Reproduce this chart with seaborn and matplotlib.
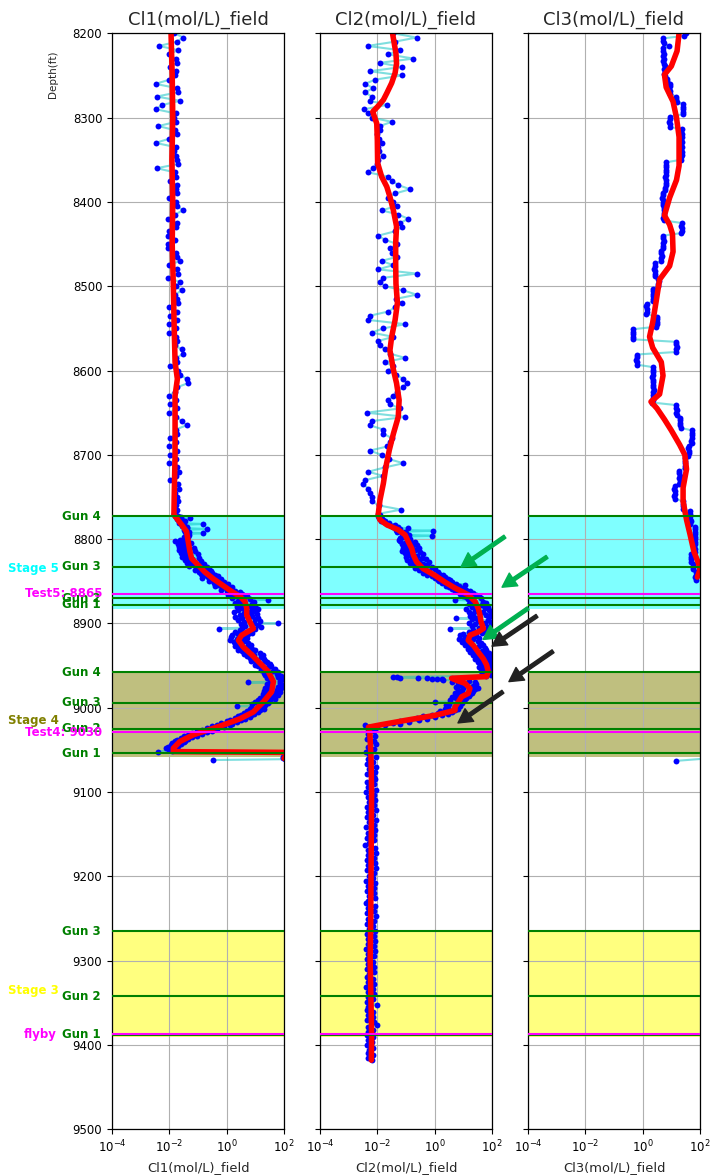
import numpy as np
import pandas as pd
import matplotlib
matplotlib.use("Agg")
import matplotlib.pyplot as plt
import matplotlib.transforms as mtransforms
from matplotlib.ticker import NullLocator
import seaborn as sns

sns.set_style("ticks")
plt.rcParams["font.family"] = ["DejaVu Sans"]

# ---------------------------------------------------------------------------
# Field chloride logs, stored as log10(mol/L).  Each run is sampled at a fixed
# depth interval starting at the given depth (ft).
# ---------------------------------------------------------------------------
CL1_UPPER_START, CL1_UPPER_STEP = 8200, 5
cl1_upper = [
    -1.82, -1.51, -1.75, -2.35, -1.70, -2.02, -1.78, -1.72, -1.98, -1.76,
    -1.80, -2.00, -2.48, -1.74, -1.70, -2.44, -1.63, -2.24, -2.48, -1.78,
    -1.82, -1.76, -2.38, -1.80, -1.74, -2.00, -2.48, -1.78, -1.82, -1.76,
    -1.72, -1.69, -2.44, -1.80, -1.76, -1.98, -1.74, -1.78, -1.72, -2.00,
    -1.76, -1.72, -1.53, -1.80, -2.03, -1.75, -1.78, -2.02, -2.06, -1.80,
    -2.04, -2.06, -1.78, -1.75, -1.63, -2.02, -1.72, -1.69, -2.04, -1.63,
    -1.78, -1.57, -1.80, -1.72, -1.70, -2.00, -1.72, -1.98, -1.74, -2.02,
    -1.76, -2.00, -1.78, -1.74, -1.80, -1.57, -1.51, -1.76, -1.72, -1.98,
    -1.70, -1.62, -1.40, -1.35, -1.74, -1.80, -2.02, -1.78, -1.98, -1.74,
    -2.00, -1.76, -1.57, -1.40, -1.78, -1.72, -1.98, -1.76, -2.02, -1.74,
    -1.98, -1.76, -2.00, -1.72, -1.68, -1.76, -1.98, -1.70, -1.68, -1.80,
    -1.74, -1.70, -1.78, -1.72,
]
CL1_LOWER_START, CL1_LOWER_STEP = 8770, 1
cl1_lower = [
    -1.85, -1.78, -1.80, -1.70, -1.60, -1.28, -1.72, -1.55, -1.66, -1.45,
    -1.58, -1.66, -0.81, -1.50, -1.56, -1.40, -1.46, -1.38, -0.69, -1.48,
    -1.40, -1.32, -1.45, -0.81, -1.38, -1.30, -1.42, -1.50, -1.35, -1.45,
    -1.50, -1.62, -1.80, -1.45, -1.60, -1.25, -1.70, -1.52, -1.38, -1.65,
    -1.55, -1.15, -1.45, -1.68, -1.10, -1.50, -1.35, -1.60, -1.00, -1.42,
    -1.30, -1.55, -0.95, -1.38, -1.20, -1.45, -0.90, -1.25, -1.40, -0.80,
    -1.20, -0.85, -1.30, -0.70, -1.05, -0.90, -0.60, -1.10, -0.55, -0.95,
    -0.50, -0.90, -0.40, -0.75, -0.30, -0.65, -0.85, -0.20, -0.55, -0.35,
    -0.60, -0.10, -0.45, 0.05, -0.30, -0.05, -0.40, 0.20, -0.15, 0.10,
    -0.20, 0.30, 0.00, 0.45, 0.15, 0.55, 0.05, 0.70, 0.30, 0.60,
    0.20, 0.80, 1.45, 0.40, 0.95, 0.55, 0.30, 0.90, 0.50, 1.00,
    0.35, 0.85, 0.55, 1.10, 0.40, 0.95, 0.25, 0.80, 0.60, 1.05,
    0.45, 0.90, 0.30, 1.10, 0.55, 1.00, 0.40, 1.15, 0.60, 0.95,
    1.80, 0.50, 1.10, 0.65, 1.20, 0.55, -0.27, 1.00, 0.45, 0.85,
    0.30, 0.90, 0.40, 0.75, 0.20, 0.60, 0.15, 0.70, 0.35, 0.55,
    0.10, 0.60, 0.25, 0.75, 0.35, 0.50, 0.85, 0.30, 0.70, 0.45,
    0.90, 0.40, 1.00, 0.55, 0.80, 1.15, 0.60, 0.95, 1.25, 0.70,
    1.20, 0.80, 1.30, 0.95, 1.35, 0.85, 1.40, 1.05, 1.50, 1.00,
    1.55, 1.10, 1.45, 1.25, 1.70, 1.20, 1.60, 1.35, 1.80, 1.30,
    1.75, 1.35, 1.90, 1.45, 1.80, 1.40, 1.95, 1.55, 1.85, 1.50,
    0.76, 1.85, 1.40, 1.95, 1.50, 1.80, 1.35, 1.90, 1.45, 1.75,
    1.30, 1.85, 1.40, 1.70, 1.25, 1.80, 1.35, 1.60, 1.15, 1.55,
    1.70, 1.10, 1.50, 1.00, 1.45, 1.20, 0.90, 1.35, 0.37, 1.25,
    0.85, 1.30, 0.80, 1.15, 0.70, 1.10, 0.60, 0.95, 0.50, 0.85,
    0.40, 0.80, 0.30, 0.65, 0.10, 0.50, 0.00, 0.35, -0.20, 0.20,
    -0.35, 0.10, -0.50, -0.10, -0.70, -0.35, -0.85, -0.50, -1.05, -0.70,
    -1.20, -0.85, -1.35, -1.05, -1.50, -1.20, -1.60, -1.35, -1.75, -1.45,
    -1.80, -1.50, -1.90, -1.60, -1.95, -1.70, -2.05, -1.75, -2.10, -1.85,
    -2.00, -1.90, -2.38, 2.40, 2.20, 2.05, 2.10, 2.00, 1.98, 2.02,
    1.98, 2.05, -0.47,
]

CL2_UPPER_START, CL2_UPPER_STEP = 8200, 5
cl2_upper = [
    -1.45, -0.63, -1.40, -2.34, -1.21, -1.62, -0.74, -1.91, -1.15, -2.26,
    -1.15, -2.08, -2.43, -2.14, -2.43, -2.20, -2.26, -1.67, -2.45, -2.31,
    -2.20, -1.50, -1.91, -1.91, -2.00, -1.95, -1.85, -1.98, -1.95, -1.79,
    -1.97, -2.00, -2.14, -2.31, -1.62, -1.50, -1.27, -0.86, -1.38, -1.62,
    -1.44, -1.33, -1.85, -1.27, -0.92, -1.21, -1.15, -1.40, -1.97, -1.73,
    -1.30, -1.56, -1.50, -1.30, -1.85, -1.45, -1.97, -0.63, -1.79, -1.91,
    -1.73, -1.09, -0.63, -1.35, -1.15, -1.38, -1.62, -2.26, -2.31, -1.03,
    -1.79, -2.20, -1.45, -1.97, -1.91, -1.73, -1.56, -1.03, -1.73, -1.45,
    -1.62, -1.35, -1.09, -0.98, -1.09, -1.30, -1.45, -1.62, -1.56, -1.21,
    -2.37, -1.03, -2.20, -2.26, -1.79, -1.79, -1.50, -1.55, -1.65, -2.26,
    -1.85, -1.60, -1.09, -1.75, -2.31, -1.80, -2.43, -2.49, -2.31, -2.26,
    -2.20, -2.20, -1.95, -1.17,
]
CL2_MID_START, CL2_MID_STEP = 8770, 1
cl2_mid = [
    -1.97, -1.92, -1.90, -1.96, -1.88, -1.94, -1.85, -1.80, -1.86, -1.72,
    -1.78, -1.60, -1.66, -1.40, -1.50, -1.27, -1.45, -0.92, -1.20, -1.35,
    -0.05, -1.05, -1.30, -1.00, -1.15, -0.90, -0.10, -1.10, -0.95, -1.20,
    -0.85, -1.25, -1.21, -0.70, -1.05, -0.75, -1.15, -0.60, -1.00, -0.80,
    -1.10, -0.55, -0.95, -0.70, -1.15, -0.50, -0.85, -1.05, -0.40, -0.90,
    -0.60, -1.00, -0.45, -0.80, -0.30, -0.95, -0.55, -0.20, -0.85, -0.40,
    -0.75, -0.25, -0.60, -0.10, -0.70, -0.35, 0.00, -0.55, -0.20, 0.10,
    -0.40, 0.15, -0.25, 0.30, -0.10, 0.35, 0.00, 0.45, 0.10, 0.55,
    0.15, 0.60, 0.25, 0.75, 1.06, 0.40, 0.85, 0.50, 1.00, 0.60,
    1.10, 0.70, 1.25, 0.85, 1.35, 0.90, 1.45, 1.00, 1.55, 1.10,
    1.60, 1.15, 0.71, 1.25, 1.70, 1.30, 1.80, 1.20, 1.65, 1.35,
    1.85, 1.30, 1.75, 1.10, 1.90, 1.40, 1.70, 1.20, 1.95, 1.35,
    1.80, 1.25, 1.90, 1.45, 0.75, 1.30, 1.85, 1.50, 1.98, 1.20,
    1.75, 1.40, 1.95, 1.30, 1.85, 1.55, 0.53, 1.90, 1.35, 1.75,
    1.20, 1.65, 1.00, 1.45, 0.90, 1.40, 1.05, 1.55, 0.85, 1.35,
    1.00, 1.50, 0.95, 1.60, 1.10, 1.70, 1.05, 1.55, 1.20, 1.75,
    1.15, 1.80, 1.30, 1.65, 1.25, 1.90, 1.40, 1.75, 1.35, 1.95,
    1.50, 1.85, 1.40, 1.98, 1.55, 1.90, 1.50, 1.98, 1.60, 1.85,
    1.65, 1.98, 1.55, 1.90, 1.70, 1.98, 1.60, 1.95, 1.75, 1.88,
    1.70, 1.95, 1.80,
]
CL2_ROW_START, CL2_ROW_STEP = 8963.5, 0.4
cl2_row = [-1.44, -1.30, -1.21, -0.57, -0.28, -0.10, 0.07, 0.24]
CL2_DROP_START, CL2_DROP_STEP = 8967, 1
cl2_drop = [
    0.30, 1.20, 0.60, 1.40, 0.80, 1.45, 0.90, 1.35, 0.75, 1.50,
    1.00, 1.40, 0.80, 1.35, 0.95, 1.30, 0.70, 1.25, 0.85, 1.20,
    0.60, 1.10, 0.75, 1.05, 0.55, 1.00, 0.01, 0.95, 0.50, 0.85,
    0.40, 0.90, 0.71, 0.45, 0.80, 0.35, 0.70, 0.20, 0.60, 0.10,
    0.45, -0.10, 0.25, -0.40, 0.00, -0.60, -0.25, -0.90, -0.55, -1.20,
    -0.90, -1.45, -1.20, -1.75, -2.43, -2.00, -2.30, -2.15, -2.32, -2.08,
    -2.30, -2.12, -2.28,
]
CL2_DEEP_START, CL2_DEEP_STEP = 9031, 3
cl2_deep = [
    -2.32, -2.08, -2.36, -2.12, -2.05, -2.34, -2.10, -2.38, -2.28, -2.06,
    -2.33, -2.14, -2.37, -2.04, -2.30, -2.09, -2.35, -2.11, -2.07, -2.36,
    -2.13, -2.31, -2.05, -2.39, -2.10, -2.34, -2.08, -2.29, -2.12, -2.37,
    -2.06, -2.33, -2.15, -2.35, -2.03, -2.30, -2.11, -2.38, -2.07, -2.32,
    -2.10, -2.36, -2.13, -2.29, -2.42, -2.08, -2.34, -2.05, -2.31, -2.12,
    -2.37, -2.09, -2.33, -2.06, -2.35, -2.11, -2.30, -2.14, -2.38, -2.07,
    -2.32, -2.10, -2.36, -2.13, -2.28, -2.08, -2.34, -2.40, -2.09, -2.31,
    -2.12, -2.35, -2.06, -2.33, -2.10, -2.37, -2.14, -2.30, -2.08, -2.36,
    -2.11, -2.32, -2.07, -2.34, -2.13, -2.38, -2.09, -2.31, -2.12, -2.35,
    -2.15, -2.33, -2.10, -2.37, -2.12, -2.30, -2.36, -2.14, -2.32, -2.11,
    -2.38, -2.16, -2.34, -2.12, -2.31, -2.15, -2.35, -2.02, -2.33, -2.37,
    -2.14, -2.32, -2.16, -2.36, -2.13, -2.01, -2.34, -2.15, -2.31, -2.36,
    -2.14, -2.33, -2.17, -2.35, -2.15, -2.30, -2.34, -2.16, -2.32, -2.18,
]

CL3_START, CL3_STEP = 8200, 3
cl3 = [
    1.50, 1.45, 0.72, 0.70, 0.74, 0.92, 0.72, 0.70, 0.73, 0.71,
    0.75, 0.72, 0.76, 0.77, 0.75, 0.78, 0.76, 0.77, 0.85, 0.86,
    0.94, 0.95, 0.93, 0.95, 0.94, 1.18, 1.17, 1.19, 1.41, 1.40,
    1.42, 1.41, 1.40, 0.94, 0.95, 0.93, 0.94, 0.96, 1.36, 1.35,
    1.37, 1.36, 1.35, 1.36, 1.34, 1.36, 1.35, 1.37, 1.36, 1.35,
    1.34, 0.82, 0.80, 0.83, 0.81, 0.80, 0.82, 0.79, 0.81, 0.80,
    0.82, 0.79, 0.78, 0.70, 0.71, 0.69, 0.70, 0.72, 0.71, 0.74,
    0.73, 0.75, 0.74, 0.72, 0.74, 1.36, 1.35, 1.37, 1.36, 1.34,
    0.72, 0.71, 0.73, 0.72, 0.70, 0.71, 0.65, 0.64, 0.66, 0.63,
    0.65, 0.42, 0.43, 0.41, 0.42, 0.44, 0.42, 0.55, 0.56, 0.54,
    0.55, 0.36, 0.37, 0.35, 0.36, 0.37, 0.35, 0.14, 0.13, 0.15,
    0.14, 0.12, 0.50, 0.49, 0.51, 0.50, 0.48, -0.33, -0.32, -0.34,
    -0.33, -0.32, 1.18, 1.17, 1.19, 1.18, 1.17, -0.21, -0.20, -0.22,
    -0.21, -0.20, 0.36, 0.35, 0.37, 0.36, 0.34, 0.36, 0.37, 0.35,
    0.36, 0.38, 0.36, 0.35, 0.37, 0.36, 0.34, 1.18, 1.17, 1.19,
    1.18, 1.20, 1.30, 1.29, 1.31, 1.30, 1.32, 1.72, 1.71, 1.73,
    1.72, 1.70, 1.71, 1.60, 1.59, 1.61, 1.60, 1.58, 1.48, 1.47,
    1.49, 1.48, 1.46, 1.28, 1.27, 1.29, 1.28, 1.30, 1.27, 1.12,
    1.11, 1.13, 1.12, 1.10, 1.12, 1.40, 1.39, 1.41, 1.40, 1.65,
    1.64, 1.66, 1.65, 1.67, 1.64, 1.82, 1.81, 1.83, 1.82, 1.84,
    1.81, 1.83, 1.82, 1.80, 1.82, 1.83, 1.68, 1.67, 1.69, 1.68,
    1.75, 1.76, 1.74, 1.85, 1.86, 1.84, 1.85,
]
cl3_tail_depth = [9060, 9063]
cl3_tail = [2.30, 1.16]

# Smoothed trends (log10 mol/L)
cl1_trend_depth = [8200, 8250, 8300, 8350, 8400, 8450, 8500, 8550, 8590, 8610,
                   8630, 8700, 8750, 8771, 8783, 8791, 8803, 8815, 8823, 8831,
                   8839, 8847, 8854, 8862, 8868, 8874, 8882, 8890, 8898, 8906,
                   8914, 8920, 8928, 8937, 8945, 8957, 8969, 8981, 8993, 9005,
                   9013, 9019, 9025, 9032, 9040, 9048, 9052, 9053, 9056, 9060]
cl1_trend = [-1.94, -1.90, -1.88, -1.91, -1.88, -1.90, -1.86, -1.83, -1.80, -1.72,
             -1.80, -1.80, -1.83, -1.84, -1.57, -1.40, -1.34, -1.28, -1.22, -0.99,
             -0.76, -0.47, -0.17, 0.17, 0.47, 0.64, 0.70, 0.70, 0.81, 0.93,
             0.52, 0.41, 0.58, 0.87, 1.10, 1.45, 1.63, 1.57, 1.28, 0.93,
             0.47, 0.00, -0.52, -1.16, -1.63, -1.86, -1.86, 2.40, 2.10, 2.00]

cl2_trend_depth = [8200, 8212, 8224, 8236, 8247, 8259, 8271, 8279, 8287, 8293,
                   8299, 8307, 8327, 8354, 8370, 8382, 8394, 8410, 8429, 8449,
                   8473, 8497, 8520, 8540, 8560, 8576, 8599, 8615, 8635, 8655,
                   8675, 8694, 8714, 8734, 8754, 8771, 8777, 8783, 8789, 8795,
                   8803, 8811, 8819, 8827, 8835, 8843, 8851, 8858, 8866, 8874,
                   8882, 8890, 8898, 8906, 8910, 8914, 8920, 8926, 8934, 8942,
                   8949, 8957, 8963, 8965, 8968, 8971, 8977, 8983, 8987, 8993,
                   8999, 9003, 9009, 9015, 9020, 9023, 9030, 9060, 9100, 9150,
                   9200, 9250, 9300, 9350, 9390, 9418]
cl2_trend = [-1.47, -1.41, -1.35, -1.33, -1.38, -1.50, -1.67, -1.79, -1.99, -2.16,
             -2.10, -2.02, -2.00, -1.99, -1.85, -1.67, -1.56, -1.44, -1.33, -1.36,
             -1.36, -1.35, -1.30, -1.38, -1.50, -1.56, -1.44, -1.33, -1.24, -1.27,
             -1.44, -1.58, -1.70, -1.79, -1.91, -1.97, -1.91, -1.67, -1.27, -1.03,
             -0.92, -0.80, -0.74, -0.63, -0.40, 0.01, 0.36, 0.71, 1.17, 1.41,
             1.52, 1.58, 1.62, 1.70, 1.52, 1.23, 1.17, 1.35, 1.52, 1.70,
             1.81, 1.87, 1.81, 0.59, 0.80, 1.06, 1.23, 1.17, 0.94, 0.83,
             0.71, 0.71, 0.01, -1.03, -1.85, -2.31, -2.26, -2.22, -2.20, -2.21,
             -2.22, -2.23, -2.25, -2.22, -2.20, -2.21]

cl3_trend_depth = [8200, 8221, 8239, 8249, 8264, 8281, 8300, 8323, 8357, 8374,
                   8395, 8416, 8427, 8438, 8459, 8476, 8492, 8518, 8543, 8560,
                   8573, 8590, 8606, 8628, 8637, 8645, 8658, 8671, 8688, 8700,
                   8717, 8739, 8755, 8777, 8794, 8815, 8828, 8836, 8845]
cl3_trend = [1.27, 1.20, 1.00, 0.76, 0.82, 1.06, 1.18, 1.27, 1.27, 1.18,
             0.94, 0.76, 0.94, 1.04, 1.06, 0.94, 0.59, 0.47, 0.35, 0.24,
             0.35, 0.65, 0.71, 0.59, 0.29, 0.50, 0.76, 1.00, 1.29, 1.47,
             1.53, 1.41, 1.41, 1.53, 1.65, 1.79, 1.94, 2.00, 1.91]

# Completion intervals
stage_names = ["Stage 5", "Stage 4", "Stage 3"]
stage_top = [8772, 8957, 9264]
stage_bottom = [8883, 9058, 9391]
stage_colors = ["cyan", "olive", "yellow"]
gun_names = ["Gun 4", "Gun 3", "Gun 2", "Gun 1",
             "Gun 4", "Gun 3", "Gun 2", "Gun 1",
             "Gun 3", "Gun 2", "Gun 1"]
gun_depths = [8773, 8833, 8870, 8878,
              8958, 8994, 9025, 9054,
              9265, 9342, 9388]
test_names = ["Test5: 8865", "Test4: 9030"]
test_depths = [8865, 9029]
flyby_depth = 9387

track_titles = ["Cl1(mol/L)_field", "Cl2(mol/L)_field", "Cl3(mol/L)_field"]

# Arrows on the Cl2 track: (conc, depth) of tail -> tip
green_tails = [(282, 8797), (8318, 8821), (1820, 8882)]
green_tips = [(8.3, 8833), (224, 8857), (49, 8919)]
black_tails = [(3715, 8891), (13490, 8933), (240, 8981)]
black_tips = [(100, 8927), (389, 8969), (6.5, 9018)]


def run(start, step, logs, unit=0):
    logs = np.asarray(logs, dtype=float)
    return pd.DataFrame({"depth": start + step * np.arange(len(logs)),
                         "conc": 10.0 ** logs, "unit": unit})


track1 = pd.concat([run(CL1_UPPER_START, CL1_UPPER_STEP, cl1_upper),
                    run(CL1_LOWER_START, CL1_LOWER_STEP, cl1_lower)],
                   ignore_index=True)
track2 = pd.concat([run(CL2_UPPER_START, CL2_UPPER_STEP, cl2_upper),
                    run(CL2_MID_START, CL2_MID_STEP, cl2_mid),
                    run(CL2_ROW_START, CL2_ROW_STEP, cl2_row),
                    run(CL2_DROP_START, CL2_DROP_STEP, cl2_drop),
                    run(CL2_DEEP_START, CL2_DEEP_STEP, cl2_deep)],
                   ignore_index=True)
track3 = pd.concat([run(CL3_START, CL3_STEP, cl3, 0),
                    pd.DataFrame({"depth": cl3_tail_depth,
                                  "conc": 10.0 ** np.asarray(cl3_tail),
                                  "unit": 1})],
                   ignore_index=True)

trends = [
    pd.DataFrame({"depth": cl1_trend_depth, "conc": 10.0 ** np.asarray(cl1_trend)}),
    pd.DataFrame({"depth": cl2_trend_depth, "conc": 10.0 ** np.asarray(cl2_trend)}),
    pd.DataFrame({"depth": cl3_trend_depth, "conc": 10.0 ** np.asarray(cl3_trend)}),
]
tracks = [track1, track2, track3]

W, H = 719, 1175
fig, axes = plt.subplots(1, 3, figsize=(W / 100, H / 100), dpi=100, sharey=True)
fig.subplots_adjust(left=112 / W, right=700 / W, top=1 - 33.3 / H,
                    bottom=1 - 1129.3 / H, wspace=36 / 172)

for ax, df, trend, title in zip(axes, tracks, trends, track_titles):
    ax.set_xscale("log")
    for top, bot, col in zip(stage_top, stage_bottom, stage_colors):
        ax.axhspan(top, bot, color=col, alpha=0.5, lw=0, zorder=0.5)

    sns.lineplot(data=df, x="conc", y="depth", units="unit", estimator=None,
                 sort=False, orient="y", color="c", alpha=0.5, lw=1.5,
                 ax=ax, zorder=2)
    sns.scatterplot(data=df, x="conc", y="depth", color="blue", s=18,
                    linewidth=0, ax=ax, zorder=2.2)
    sns.lineplot(data=trend, x="conc", y="depth", estimator=None, sort=False,
                 orient="y", color="red", lw=4, ax=ax, zorder=2.5)

    for d in gun_depths:
        ax.axhline(d, color="green", lw=1.5, zorder=3)
    for d in test_depths + [flyby_depth]:
        ax.axhline(d, color="magenta", lw=1.5, zorder=3)

    ax.set_xlim(1e-4, 1e2)
    ax.set_xticks([1e-4, 1e-2, 1e0, 1e2])
    ax.xaxis.set_minor_locator(NullLocator())
    ax.set_ylim(9500, 8200)
    ax.set_yticks(np.arange(8200, 9501, 100))
    ax.grid(True, color="#b0b0b0", lw=0.8)
    ax.set_title(title, fontsize=13)
    ax.set_xlabel(title, fontsize=9.4)
    ax.set_ylabel("")
    ax.tick_params(labelsize=8.5, colors="black")
    for s in ax.spines.values():
        s.set_color("black")
        s.set_linewidth(0.9)

axes[0].set_ylabel("Depth(ft)", fontsize=7.5)
axes[0].yaxis.set_label_coords(-0.314, 0.963)

# Interval annotations left of the first track
ax0 = axes[0]
lab = mtransforms.blended_transform_factory(ax0.transAxes, ax0.transData)
for name, top, bot, col in zip(stage_names, stage_top, stage_bottom, stage_colors):
    ax0.text(-0.31, (top + bot) / 2, name, transform=lab, ha="right", va="top",
             color=col, fontsize=8.5, fontweight="bold", clip_on=False)
for name, d in zip(gun_names, gun_depths):
    ax0.text(-0.065, d, name, transform=lab, ha="right", va="center",
             color="green", fontsize=8.5, fontweight="bold", clip_on=False)
for name, d in zip(test_names, test_depths):
    ax0.text(-0.058, d, name, transform=lab, ha="right", va="center",
             color="magenta", fontsize=8.5, fontweight="bold", clip_on=False)
ax0.text(-0.32, flyby_depth, "flyby", transform=lab, ha="right", va="center",
         color="magenta", fontsize=8.5, fontweight="bold", clip_on=False)

# Arrows drawn above the neighbouring track
for tails, tips, col in [(green_tails, green_tips, "#00b050"),
                         (black_tails, black_tips, "#222222")]:
    for tail, tip in zip(tails, tips):
        axes[2].annotate("", xy=tip, xycoords=axes[1].transData,
                         xytext=tail, textcoords=axes[1].transData,
                         arrowprops=dict(facecolor=col, edgecolor=col, width=2.5,
                                         headwidth=11, headlength=10, shrink=0),
                         annotation_clip=False)

fig.savefig("out.png", dpi=100)
